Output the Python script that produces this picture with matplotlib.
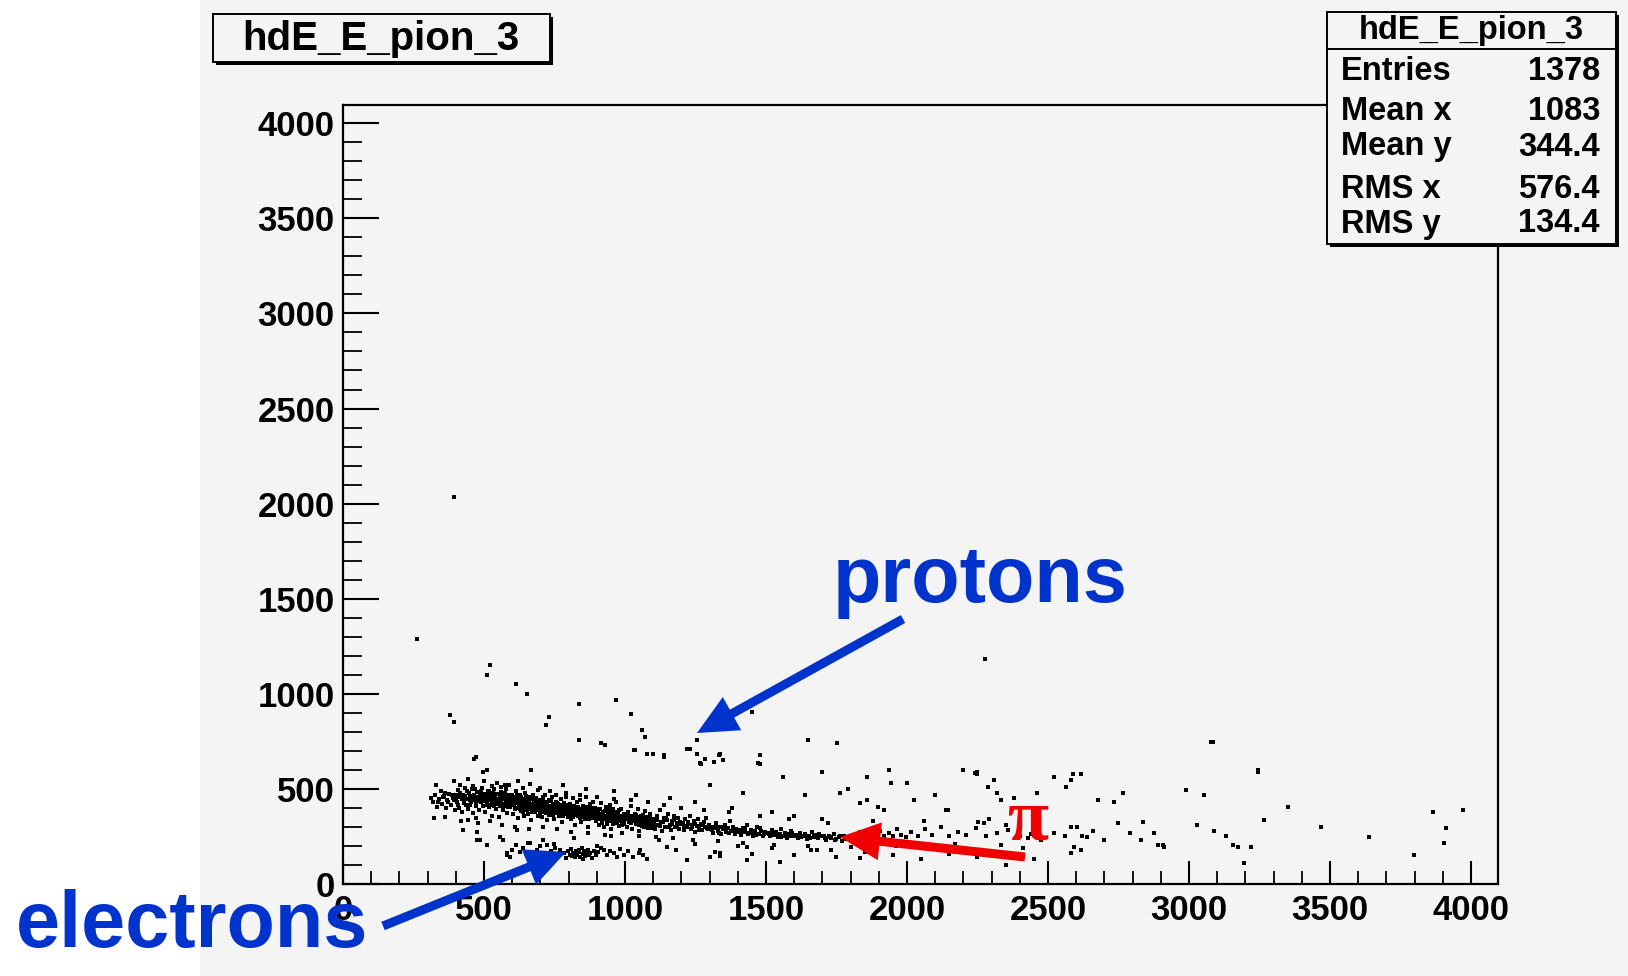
import matplotlib.pyplot as plt
from matplotlib.patches import Rectangle, FancyArrow

# ---- values (ADC channels: x = E, y = dE) ----
pion_band = [
    (312, 452), (318, 430), (326, 470), (333, 405), (339, 445), (346, 488), (352, 420),
    (358, 462), (364, 398), (370, 440), (377, 475), (383, 415), (389, 452), (396, 390),
    (399, 470), (403, 430), (408, 495), (412, 400), (417, 455), (421, 380), (426, 470),
    (430, 425), (434, 505), (439, 445), (443, 395), (447, 480), (452, 418), (456, 462),
    (460, 372), (465, 440), (469, 498), (473, 410), (478, 455), (482, 390), (486, 475),
    (490, 430), (494, 505), (498, 410), (405, 460), (428, 445), (450, 440), (470, 425),
    (488, 450), (415, 520), (462, 515), (445, 335), (480, 320),
    (502, 455), (505, 380), (509, 430), (513, 490), (516, 405), (520, 470), (524, 440),
    (527, 360), (531, 420), (535, 500), (538, 455), (542, 395), (546, 475), (549, 430),
    (553, 350), (557, 410), (560, 485), (564, 445), (568, 390), (571, 465), (575, 420),
    (579, 500), (582, 375), (586, 440), (590, 470), (594, 405), (597, 450), (508, 470),
    (522, 415), (540, 435), (555, 460), (570, 410), (588, 425), (530, 515), (575, 520),
    (601, 420), (604, 370), (608, 460), (611, 395), (615, 490), (618, 430), (622, 345),
    (625, 410), (629, 470), (632, 385), (636, 445), (640, 415), (643, 355), (647, 480),
    (650, 400), (654, 440), (657, 370), (661, 460), (665, 420), (668, 335), (672, 395),
    (675, 470), (679, 430), (682, 380), (686, 450), (690, 410), (693, 360), (697, 440),
    (606, 440), (620, 455), (634, 400), (645, 430), (659, 395), (670, 445), (684, 420),
    (695, 390), (612, 425), (627, 435), (652, 420), (677, 410),
    (701, 400), (704, 350), (708, 455), (711, 420), (715, 380), (718, 470), (722, 335),
    (725, 410), (729, 440), (732, 365), (736, 395), (740, 460), (743, 420), (747, 340),
    (750, 385), (754, 430), (757, 470), (761, 400), (765, 355), (768, 415), (772, 445),
    (775, 325), (779, 390), (782, 425), (786, 370), (790, 455), (793, 405), (797, 350),
    (706, 395), (720, 430), (734, 405), (748, 375), (763, 420), (777, 380), (791, 395),
    (713, 405), (741, 390), (758, 410), (784, 400),
    (801, 380), (805, 420), (808, 340), (812, 395), (815, 450), (819, 365), (822, 310),
    (826, 400), (829, 430), (833, 355), (836, 385), (840, 440), (843, 325), (847, 375),
    (850, 410), (854, 350), (858, 395), (861, 455), (865, 365), (868, 300), (872, 390),
    (875, 420), (879, 345), (882, 380), (886, 430), (890, 360), (893, 400), (897, 330),
    (810, 370), (824, 385), (838, 365), (852, 380), (866, 395), (880, 360), (894, 375),
    (817, 390), (845, 395), (873, 370),
    (901, 350), (905, 390), (908, 310), (912, 370), (915, 425), (919, 340), (922, 380),
    (926, 300), (930, 360), (933, 405), (937, 330), (940, 375), (944, 350), (948, 415),
    (951, 290), (955, 365), (958, 395), (962, 325), (966, 355), (969, 430), (973, 340),
    (976, 380), (980, 305), (984, 360), (987, 395), (991, 335), (995, 370), (998, 315),
    (910, 345), (925, 360), (942, 340), (957, 350), (972, 365), (989, 350),
    (1002, 345), (1006, 300), (1010, 380), (1014, 325), (1018, 360), (1022, 410), (1026, 290),
    (1030, 340), (1034, 370), (1038, 315), (1042, 350), (1046, 395), (1050, 280), (1054, 330),
    (1058, 360), (1062, 305), (1066, 345), (1070, 385), (1074, 320), (1078, 350), (1082, 295),
    (1086, 335), (1090, 370), (1094, 310), (1098, 340), (1016, 340), (1044, 330), (1072, 340),
    (1103, 330), (1108, 290), (1113, 355), (1118, 310), (1123, 390), (1128, 325), (1133, 280),
    (1138, 345), (1143, 300), (1148, 335), (1153, 370), (1158, 310), (1163, 285), (1168, 330),
    (1173, 355), (1178, 300), (1183, 320), (1188, 345), (1193, 290), (1198, 315),
    (1204, 320), (1209, 285), (1214, 340), (1219, 300), (1224, 315), (1229, 360), (1234, 290),
    (1239, 310), (1244, 330), (1249, 275), (1254, 305), (1259, 340), (1264, 295), (1269, 315),
    (1274, 285), (1279, 325), (1284, 300), (1289, 345), (1294, 290), (1299, 310),
    (1305, 300), (1311, 270), (1317, 295), (1323, 320), (1329, 280), (1335, 300), (1341, 265),
    (1347, 290), (1353, 310), (1359, 275), (1365, 295), (1371, 330), (1377, 280), (1383, 300),
    (1389, 265), (1395, 290),
    (1405, 285), (1412, 260), (1419, 295), (1426, 275), (1433, 310), (1440, 270), (1447, 285),
    (1454, 255), (1461, 280), (1468, 300), (1475, 265), (1482, 280), (1489, 250), (1496, 275),
    (1506, 270), (1513, 250), (1520, 285), (1527, 260), (1534, 275), (1541, 245), (1548, 265),
    (1555, 290), (1562, 255), (1569, 270), (1576, 240), (1583, 265), (1590, 280), (1597, 255),
    (1606, 260), (1614, 240), (1622, 270), (1630, 250), (1638, 265), (1646, 235), (1654, 255),
    (1662, 275), (1670, 245), (1678, 260), (1686, 240), (1694, 255),
    (1705, 250), (1714, 230), (1723, 255), (1732, 240), (1741, 265), (1750, 235), (1759, 245),
    (1768, 225), (1777, 250), (1786, 235), (1795, 245),
    (1808, 260), (1820, 240), (1835, 275), (1848, 250), (1860, 235), (1875, 265), (1890, 245),
    (1905, 280), (1920, 255), (1935, 270), (1950, 250), (1965, 290), (1980, 260), (1995, 245),
    (2015, 275), (2040, 255), (2065, 290), (2090, 260), (2120, 300), (2150, 250), (2180, 275),
    (2210, 260), (2245, 295), (2280, 255), (2320, 270), (2360, 285), (2400, 250), (2440, 265),
    (2480, 240), (2520, 270), (2560, 255),
]

pion_core = [
    (355, 455), (362, 478), (371, 430), (386, 468), (392, 440), (401, 452), (409, 418),
    (414, 476), (423, 448), (431, 462), (437, 418), (441, 488), (449, 458), (454, 432),
    (458, 497), (463, 468), (467, 452), (475, 482), (477, 436), (484, 460), (491, 489),
    (496, 446), (499, 472), (503, 438), (507, 462), (511, 418), (514, 452), (518, 488),
    (521, 440), (526, 465), (529, 430), (533, 478), (537, 410), (539, 468), (544, 448),
    (547, 420), (551, 472), (554, 438), (559, 428), (562, 462), (566, 415), (569, 449),
    (573, 478), (577, 438), (580, 458), (584, 405), (587, 462), (592, 436), (596, 418),
    (599, 470), (603, 452), (607, 415), (610, 438), (614, 402), (617, 468), (621, 425),
    (624, 448), (628, 392), (631, 455), (635, 428), (638, 376), (642, 445), (646, 405),
    (649, 462), (653, 388), (656, 425), (660, 438), (663, 402), (667, 458), (671, 378),
    (674, 418), (678, 442), (681, 405), (685, 390), (688, 432), (692, 398), (696, 422),
    (699, 375), (703, 422), (707, 380), (710, 440), (714, 398), (717, 418), (721, 372),
    (724, 432), (728, 390), (731, 412), (735, 378), (738, 438), (742, 402), (745, 362),
    (749, 418), (752, 398), (756, 372), (759, 428), (762, 385), (766, 405), (770, 368),
    (773, 412), (777, 395), (781, 358), (785, 408), (788, 380), (792, 418), (795, 372),
    (799, 392), (803, 360), (807, 398), (811, 378), (814, 352), (818, 408), (821, 382),
    (825, 362), (828, 395), (832, 372), (835, 405), (839, 348), (842, 388), (846, 362),
    (849, 392), (853, 368), (857, 340), (860, 382), (864, 405), (867, 358), (871, 372),
    (874, 340), (878, 398), (881, 362), (885, 345), (889, 385), (892, 352), (896, 392),
    (899, 360), (903, 372), (907, 340), (911, 392), (914, 358), (918, 322), (921, 368),
    (924, 342), (928, 382), (932, 350), (935, 318), (939, 362), (943, 392), (946, 332),
    (950, 372), (953, 345), (957, 318), (960, 378), (964, 342), (968, 362), (971, 322),
    (975, 352), (979, 388), (982, 332), (986, 345), (990, 312), (993, 358), (997, 338),
    (1004, 362), (1012, 342), (1020, 322), (1028, 355), (1036, 332), (1040, 362), (1048, 312),
    (1052, 348), (1060, 328), (1064, 362), (1068, 302), (1076, 338), (1080, 315), (1088, 352),
    (1092, 325), (1096, 295), (1105, 312), (1115, 338), (1125, 305), (1135, 325), (1145, 348),
    (1155, 298), (1165, 318), (1175, 335), (1185, 302), (1195, 328), (1210, 305), (1222, 328),
    (1236, 298), (1248, 318), (1262, 285), (1276, 310), (1290, 295), (1308, 285), (1320, 300),
    (1332, 268), (1345, 302), (1358, 288), (1370, 268), (1385, 285), (1398, 272), (1410, 275),
    (1425, 290), (1438, 262), (1452, 272), (1465, 260), (1480, 292), (1493, 262), (1510, 262),
    (1524, 275), (1538, 258), (1552, 248), (1566, 262), (1580, 252), (1594, 268), (1610, 252),
    (1625, 245), (1640, 258), (1655, 240), (1672, 252), (1688, 262), (1710, 240), (1728, 248),
    (1745, 232), (1762, 255), (1780, 238),
]

pion_halo = [
    (330, 520), (360, 350), (395, 540), (420, 330), (445, 550), (470, 345), (500, 540),
    (520, 330), (545, 530), (565, 310), (590, 520), (610, 300), (640, 505), (660, 290),
    (690, 495), (710, 300), (735, 490), (760, 290), (790, 480), (810, 275), (840, 470),
    (870, 270), (900, 455), (930, 260), (960, 445), (990, 270), (1020, 440), (1050, 250),
    (1080, 430), (1110, 245), (1140, 415), (1170, 240), (1200, 400), (1240, 230), (1280, 390),
    (1330, 225), (1370, 380), (1420, 215), (1480, 360), (1530, 205), (1580, 340), (1650, 200),
    (1720, 320), (1800, 195), (1880, 330), (1960, 200), (2060, 330), (2170, 210), (2290, 340),
    (2410, 190),
]

electrons = [
    (581, 152), (599, 178), (612, 205), (628, 168), (640, 187), (655, 215), (672, 160),
    (688, 178), (700, 198), (712, 145), (723, 205), (738, 172), (752, 190), (765, 150),
    (770, 178), (782, 161), (792, 138), (798, 172), (805, 152), (809, 185), (816, 162),
    (821, 140), (826, 176), (831, 155), (836, 168), (841, 143), (846, 188), (851, 158),
    (855, 172), (859, 146), (864, 165), (869, 180), (873, 150), (877, 162), (884, 138),
    (890, 175), (897, 152), (905, 168), (915, 190), (924, 178), (935, 150), (948, 172),
    (960, 162), (972, 140), (984, 185), (998, 155), (1012, 175), (1030, 142), (1048, 165),
    (1065, 150), (1078, 134), (850, 130), (812, 148), (838, 180),
]

protons = [
    (392, 2033), (262, 1290), (523, 1150), (510, 1097), (615, 1053), (654, 1001),
    (380, 887), (392, 852), (732, 878), (719, 835), (836, 948), (968, 966), (1020, 896),
    (1060, 808), (1072, 773), (836, 756), (916, 739), (929, 730), (471, 668),
    (1033, 703), (1099, 686), (1138, 677), (1230, 712), (1256, 686), (1282, 659),
    (1334, 677), (1347, 651), (1269, 633), (1256, 756), (1452, 904), (1478, 677),
    (1478, 633), (1648, 756), (1753, 739), (2276, 1185), (3087, 747), (3244, 598),
    (1078, 686), (1137, 668), (1220, 712), (1315, 642), (1036, 703),
]

scattered = [
    (2250, 589), (2590, 581), (1936, 598), (510, 598), (667, 598), (498, 589), (463, 659),
    (664, 528), (1267, 635), (1470, 635), (1338, 686), (1942, 530), (2137, 388), (2250, 581),
    (2308, 546), (2320, 476), (2332, 441), (2581, 546), (2616, 581), (2604, 301), (2640, 248),
    (1764, 476), (1859, 441), (2024, 441), (1918, 388), (1896, 404), (1835, 425), (2243, 582),
    (2286, 509), (2144, 388), (2251, 325), (2272, 320), (2350, 310), (2428, 241), (2474, 231),
    (2332, 205), (1303, 143), (1338, 161), (1551, 117), (1658, 178), (1729, 178), (1835, 135),
    (2592, 196), (2616, 178), (1054, 178), (1150, 194), (1221, 126), (1338, 147), (1434, 194),
    (1434, 126), (321, 345), (427, 283), (475, 231), (510, 205), (569, 231), (593, 143),
    (664, 214), (711, 231), (616, 283), (337, 430), (486, 231), (582, 163), (557, 247),
    (476, 273), (2580, 546), (2563, 509), (2676, 441), (2733, 430), (2765, 478), (2989, 493),
    (3053, 467), (2592, 194), (2580, 163), (2836, 325), (2875, 268), (2890, 205), (2907, 205),
    (3156, 205), (3220, 194), (3195, 110), (2580, 300), (2620, 250), (2660, 280), (2697, 230),
    (2748, 320), (2790, 270), (2830, 230), (2911, 195), (3030, 310), (3090, 280), (3130, 250),
    (3175, 195), (3266, 336), (3351, 404), (3468, 300), (3639, 247), (3798, 152), (3866, 378),
    (3912, 294), (3905, 215), (3972, 388), (3078, 745), (3245, 588),
    (1300, 520), (1420, 480), (1560, 560), (1640, 470), (1700, 590), (1790, 500), (1860, 560),
    (2000, 530), (2100, 470), (2200, 600), (2380, 450), (2460, 480), (2520, 560),
    (750, 210), (820, 240), (900, 200), (950, 250), (1120, 230), (1180, 180), (1250, 210),
    (1320, 170), (1400, 200), (1450, 160), (1520, 190), (1600, 150), (1680, 180), (1750, 140),
    (1850, 170), (1950, 150), (2050, 130), (2150, 160), (2250, 140), (2350, 100), (2450, 130),
    (560, 510), (620, 540), (700, 505), (780, 520), (860, 500), (960, 490), (1040, 470),
    (1160, 450), (1250, 430), (1380, 400), (1520, 380), (1600, 360), (1700, 340),
]

axis_ticks = [0, 500, 1000, 1500, 2000, 2500, 3000, 3500, 4000]
hist_title = "hdE_E_pion_3"
stats_labels = ["Entries", "Mean x", "Mean y", "RMS x", "RMS y"]
stats_values = ["1378", "1083", "344.4", "576.4", "134.4"]

plt.rcParams['font.family'] = ['Liberation Sans', 'DejaVu Sans']
plt.rcParams['font.weight'] = 'bold'

W, H = 1628, 976
bg = '#f4f4f4'
blue = '#0033cc'
red = '#f00000'

fig = plt.figure(figsize=(W / 100, H / 100), dpi=100)
fig.patch.set_facecolor('white')
fig.add_artist(Rectangle((200 / W, 0), 1 - 200 / W, 1, transform=fig.transFigure,
                         facecolor=bg, edgecolor='none', zorder=0))

ax = fig.add_axes([343 / W, (H - 884) / H, 1155 / W, 779 / H], zorder=1)
ax.set_facecolor(bg)

for pts in (pion_band, pion_core, pion_halo, electrons, protons, scattered):
    xs, ys = zip(*pts)
    ax.plot(xs, ys, 's', color='black', ms=2.2, mew=0)

ax.set_xlim(0, 4096)
ax.set_ylim(0, 4096)
ax.set_xticks(axis_ticks)
ax.set_yticks(axis_ticks)
ax.set_xticks(range(0, 4096, 100), minor=True)
ax.set_yticks(range(0, 4096, 100), minor=True)
ax.tick_params(axis='x', which='major', direction='in', length=16.5, width=1.5, pad=7, labelsize=25)
ax.tick_params(axis='x', which='minor', direction='in', length=9.5, width=1.3)
ax.tick_params(axis='y', which='major', direction='in', length=26, width=1.5, pad=6, labelsize=25)
ax.tick_params(axis='y', which='minor', direction='in', length=14, width=1.3)
for lab in ax.get_xticklabels() + ax.get_yticklabels():
    lab.set_fontweight('bold')
for sp in ax.spines.values():
    sp.set_linewidth(1.6)

# overlay in image pixels (y down) for boxes, labels and arrows
ov = fig.add_axes([0, 0, 1, 1], zorder=3)
ov.set_xlim(0, W)
ov.set_ylim(H, 0)
ov.axis('off')

# title box with ROOT style shadow
ov.add_patch(Rectangle((216, 17), 337, 48, facecolor='black', edgecolor='none'))
ov.add_patch(Rectangle((213, 14), 337, 48, facecolor=bg, edgecolor='black', lw=1.4))
ov.text(381, 39, hist_title, ha='center', va='center', fontsize=29, fontweight='bold')

# stats box
ov.add_patch(Rectangle((1330, 15), 289, 232, facecolor='black', edgecolor='none'))
ov.add_patch(Rectangle((1327, 12), 289, 232, facecolor=bg, edgecolor='black', lw=1.4))
ov.plot([1327, 1616], [49, 49], color='black', lw=1.4)
ov.text(1471, 31, hist_title, ha='center', va='center', fontsize=23.5, fontweight='bold')
row_y = [72, 112, 147, 189, 224]
for lab, val, yy in zip(stats_labels, stats_values, row_y):
    ov.text(1341, yy, lab, ha='left', va='center', fontsize=23.5, fontweight='bold')
    ov.text(1600, yy, val, ha='right', va='center', fontsize=23.5, fontweight='bold')

# annotations
ov.text(833, 602, "protons", color=blue, fontsize=57, fontweight='bold', va='baseline', ha='left')
ov.text(16, 947, "electrons", color=blue, fontsize=57, fontweight='bold', va='baseline', ha='left')
ov.text(1028, 840, "π", color=red, fontsize=54, fontweight='bold', va='baseline', ha='center',
        family=['Liberation Serif', 'DejaVu Serif'])

arrows = [
    ((903, 619), (697, 733), blue),
    ((383, 926), (566, 852), blue),
    ((1025, 857), (840, 837), red),
]
for (x0, y0), (x1, y1), col in arrows:
    ov.add_patch(FancyArrow(x0, y0, x1 - x0, y1 - y0, width=9, head_width=38, head_length=40,
                            length_includes_head=True, color=col, lw=0))

fig.savefig('out.png', dpi=100, facecolor=fig.get_facecolor())
